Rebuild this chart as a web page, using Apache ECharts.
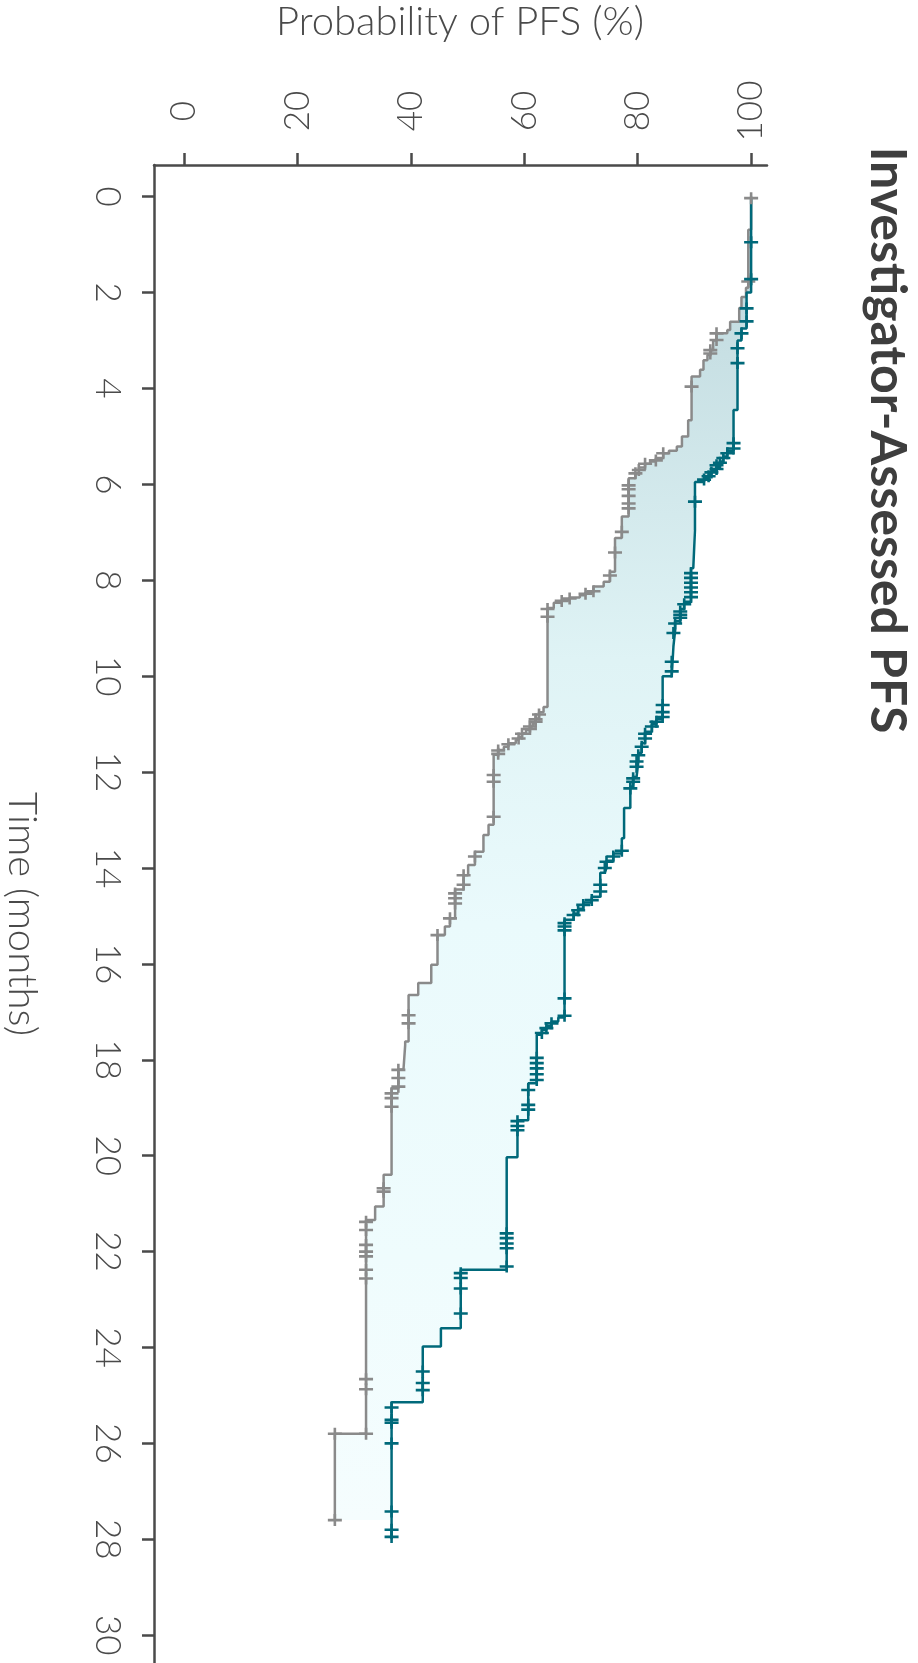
<!DOCTYPE html>
<html>
<head>
<meta charset="utf-8">
<script src="https://cdn.jsdelivr.net/npm/echarts@6/dist/echarts.min.js"></script>
<style>
html,body{margin:0;padding:0;background:#fff;}
#chart{width:918px;height:1663px;}
</style>
</head>
<body>
<div id="chart"></div>
<script>
// ---- data (time in months, survival in %) ----
const timeTicks = [0,2,4,6,8,10,12,14,16,18,20,22,24,26,28,30];
const probTicks = [0,20,40,60,80,100];

const controlSteps = [[0,100],[0.69,99.5],[1.9,99.1],[2.09,98.3],[2.32,97.9],[2.61,96.3],[2.78,95.8],[2.85,93.9],[3.0,93.3],[3.2,92.8],[3.3,92.3],[3.41,91.6],[3.61,91.0],[3.75,89.5],[4.66,88.9],[5.0,87.8],[5.21,86.9],[5.3,85.5],[5.35,84.5],[5.45,83.2],[5.52,82.2],[5.57,81.3],[5.65,80.2],[5.77,79.6],[5.87,78.4],[6.67,77.2],[7.12,76.0],[7.82,75.1],[8.03,74.0],[8.13,72.2],[8.25,70.8],[8.31,69.8],[8.36,68.0],[8.41,66.6],[8.47,65.2],[8.58,64.1],[10.64,63.4],[10.75,62.6],[10.88,62.0],[10.98,61.5],[11.05,61.0],[11.12,60.3],[11.19,59.6],[11.27,59.0],[11.33,58.5],[11.4,57.2],[11.47,56.4],[11.54,55.4],[11.64,54.6],[13.1,53.7],[13.31,52.8],[13.66,51.3],[13.94,50.1],[14.15,49.3],[14.45,47.8],[15.05,46.9],[15.22,46.0],[15.4,44.7],[16.02,43.6],[16.4,41.3],[16.65,39.6],[17.62,39.0],[17.7,38.7],[18.2,37.8],[18.6,36.6],[20.4,35.2],[21.06,33.7],[21.34,32.1],[25.8,26.6]];
const controlEnd = 27.6;
const controlCensored = [[0.03,100],[1.77,99.5],[2.85,93.9],[2.99,93.9],[3.2,92.8],[3.27,92.8],[3.96,89.5],[5.35,84.5],[5.5,83.2],[5.57,81.3],[5.7,80.2],[5.77,79.6],[6.02,78.4],[6.1,78.4],[6.24,78.4],[6.4,78.4],[6.5,78.4],[6.99,77.2],[7.42,76.0],[7.9,75.1],[8.23,72.2],[8.28,70.8],[8.38,68.0],[8.43,66.6],[8.6,64.1],[8.76,64.1],[10.8,62.6],[10.9,62.0],[10.95,62.0],[11.05,61.0],[11.1,61.0],[11.2,59.6],[11.3,59.0],[11.42,57.2],[11.55,55.4],[11.62,55.4],[12.06,54.6],[12.2,54.6],[12.93,54.6],[13.76,51.3],[14.15,49.3],[14.35,49.3],[14.53,47.8],[14.63,47.8],[14.74,47.8],[15.05,46.9],[15.4,44.7],[17.07,39.6],[17.24,39.6],[18.21,37.8],[18.38,37.8],[18.56,37.8],[18.7,36.6],[18.8,36.6],[18.98,36.6],[20.68,35.2],[20.75,35.2],[21.38,32.1],[21.55,32.1],[21.86,32.1],[22.0,32.1],[22.1,32.1],[22.38,32.1],[22.56,32.1],[24.66,32.1],[24.87,32.1],[25.8,32.1],[25.8,26.6],[27.6,26.6]];

const treatSteps = [[0,100],[2.0,99.2],[2.75,98.3],[3.0,97.6],[4.45,96.9],[5.3,95.8],[5.42,95.1],[5.52,94.5],[5.63,93.9],[5.72,93.0],[5.8,92.5],[5.87,91.7],[5.95,90.1],[6.95,89.8],[7.75,89.4],[8.45,88.2],[8.6,87.5],[8.85,86.6],[9.05,86.3],[9.38,86.0],[10.0,84.4],[10.9,83.3],[11.0,82.5],[11.16,81.3],[11.4,80.7],[11.6,80.1],[11.8,79.8],[12.1,79.2],[12.3,78.7],[12.75,77.6],[13.38,77.2],[13.7,75.7],[13.85,74.5],[14.0,74.2],[14.1,73.4],[14.6,71.9],[14.72,70.4],[14.85,69.5],[14.95,68.7],[15.08,67.1],[17.12,66.0],[17.2,64.8],[17.3,63.9],[17.38,63.1],[17.48,62.2],[18.49,60.7],[19.26,58.8],[20.03,56.9],[22.38,48.8],[23.6,45.3],[23.98,42.1],[25.14,36.6]];
const treatEnd = 28.0;
const treatCensored = [[0.95,100],[1.72,100],[2.33,99.2],[2.6,99.2],[2.85,98.3],[3.16,97.6],[3.47,97.6],[5.14,96.9],[5.25,96.9],[5.35,95.8],[5.45,95.1],[5.55,94.5],[5.6,93.9],[5.68,93.9],[5.75,93.0],[5.83,92.5],[5.9,91.7],[6.36,90.1],[7.85,89.4],[7.95,89.4],[8.05,89.4],[8.15,89.4],[8.25,89.4],[8.35,89.4],[8.5,88.2],[8.65,87.5],[8.72,87.5],[8.78,87.5],[8.9,86.6],[9.1,86.3],[9.7,86.0],[9.9,86.0],[10.6,84.4],[10.75,84.4],[10.85,84.4],[10.95,83.3],[11.05,82.5],[11.2,81.3],[11.3,81.3],[11.47,80.7],[11.65,80.1],[11.78,79.8],[11.89,79.8],[12.13,79.2],[12.2,79.2],[12.34,78.7],[13.64,77.2],[13.76,75.7],[13.87,74.5],[14.0,74.2],[14.35,73.4],[14.49,73.4],[14.67,71.9],[14.77,70.4],[14.88,69.5],[14.98,68.7],[15.15,67.1],[15.22,67.1],[15.3,67.1],[16.72,67.1],[17.08,67.1],[17.24,64.8],[17.34,63.9],[17.44,63.1],[17.96,62.2],[18.07,62.2],[18.18,62.2],[18.3,62.2],[18.42,62.2],[18.63,60.7],[18.94,60.7],[19.04,60.7],[19.28,58.8],[19.38,58.8],[19.47,58.8],[21.62,56.9],[21.72,56.9],[21.83,56.9],[21.93,56.9],[22.31,56.9],[22.45,48.8],[22.55,48.8],[22.77,48.8],[23.29,48.8],[24.5,42.1],[24.74,42.1],[24.89,42.1],[25.25,36.6],[25.51,36.6],[25.57,36.6],[26.0,36.6],[27.42,36.6],[27.8,36.6],[27.95,36.6]];

const titleText = 'Investigator-Assessed PFS';
const xName = 'Probability of PFS (%)';
const yName = 'Time (months)';

// ---- build step paths: points as [prob, time] ----
function stepPath(steps, tEnd) {
  const pts = [];
  let prev = null;
  steps.forEach(function (s) {
    if (prev !== null) pts.push([prev, s[0]]);
    pts.push([s[1], s[0]]);
    prev = s[1];
  });
  pts.push([prev, tEnd]);
  return pts;
}
const controlPath = stepPath(controlSteps, controlEnd);
const treatPath = stepPath(treatSteps, treatEnd);
const fillEnd = Math.min(controlEnd, treatEnd);
function clipPath(path, tMax) {
  const out = [];
  for (let i = 0; i < path.length; i++) {
    if (path[i][1] <= tMax) out.push(path[i]);
    else { out.push([path[i - 1][0], tMax]); break; }
  }
  if (out[out.length - 1][1] < tMax) out.push([out[out.length - 1][0], tMax]);
  return out;
}
const fillPoly = clipPath(treatPath, fillEnd).concat(clipPath(controlPath, fillEnd).reverse());

const GRAY = '#8a8a8a';
const TEAL = '#00697a';
const TEXT = '#4a4a4a';
const plusSym = 'path://M0,4.7H14V7.3H0Z M5.7,0H8.3V12H5.7Z';

const chart = echarts.init(document.getElementById('chart'), null, {renderer: 'canvas'});
const fillGrad = new echarts.graphic.LinearGradient(0, 0, 0, 1, [
  {offset: 0, color: '#bcd7dc'},
  {offset: 0.12, color: '#c8e0e4'},
  {offset: 0.35, color: '#dff3f5'},
  {offset: 0.55, color: '#eafafc'},
  {offset: 0.8, color: '#effcfd'},
  {offset: 1, color: '#f5fdfe'}
]);

chart.setOption({
  animation: false,
  backgroundColor: '#ffffff',
  grid: {left: 154, top: 165, width: 613, height: 1498, containLabel: false, outerBoundsMode: 'none'},
  xAxis: {
    type: 'value', position: 'top', min: -5.29, max: 102.8,
    axisLine: {show: true, onZero: false, lineStyle: {color: TEXT, width: 2.5}},
    axisTick: {show: true, inside: false, length: 12, customValues: probTicks, lineStyle: {color: TEXT, width: 2.5}},
    axisLabel: {show: true, rotate: -90, margin: 54, align: 'center', verticalAlign: 'middle',
      customValues: probTicks, color: TEXT, fontSize: 35, fontFamily: 'Lato', fontWeight: 300},
    splitLine: {show: false}
  },
  yAxis: {
    type: 'value', position: 'left', inverse: true, min: -0.661, max: 30.58,
    axisLine: {show: true, onZero: false, lineStyle: {color: TEXT, width: 2.5}},
    axisTick: {show: true, inside: false, length: 12, customValues: timeTicks, lineStyle: {color: TEXT, width: 2.5}},
    axisLabel: {show: true, rotate: -90, margin: 29, customValues: timeTicks, color: TEXT,
      fontSize: 35, fontFamily: 'Lato', fontWeight: 300},
    splitLine: {show: false}
  },
  graphic: [
    {type: 'text', x: 887, y: 440, rotation: -Math.PI / 2, z: 10,
      style: {text: titleText, font: 'bold 50px Lato', fill: '#3e3e3e', align: 'center', verticalAlign: 'middle'}},
    {type: 'text', x: 460, y: 22, z: 10,
      style: {text: xName, font: '300 40px Lato', fill: TEXT, align: 'center', verticalAlign: 'middle'}},
    {type: 'text', x: 22, y: 914, rotation: -Math.PI / 2, z: 10,
      style: {text: yName, font: '300 40px Lato', fill: TEXT, align: 'center', verticalAlign: 'middle'}}
  ],
  series: [
    {
      type: 'custom', name: 'fill', z: 1, silent: true, clip: false,
      data: [[0, 0]],
      renderItem: function (params, api) {
        if (params.dataIndex !== 0) return;
        const pts = fillPoly.map(function (d) { return api.coord(d); });
        return {type: 'polygon', shape: {points: pts}, style: {fill: fillGrad}};
      }
    },
    {
      type: 'line', name: 'Control', z: 3, data: controlPath, showSymbol: false, silent: true,
      lineStyle: {color: GRAY, width: 2.5}, itemStyle: {color: GRAY}
    },
    {
      type: 'line', name: 'Treatment', z: 4, data: treatPath, showSymbol: false, silent: true,
      lineStyle: {color: TEAL, width: 2.5}, itemStyle: {color: TEAL}
    },
    {
      type: 'scatter', name: 'Control censored', z: 5, silent: true,
      data: controlCensored.map(function (c) { return [c[1], c[0]]; }),
      symbol: plusSym, symbolSize: [14, 12], itemStyle: {color: GRAY, opacity: 1}
    },
    {
      type: 'scatter', name: 'Treatment censored', z: 6, silent: true,
      data: treatCensored.map(function (c) { return [c[1], c[0]]; }),
      symbol: plusSym, symbolSize: [14, 12], itemStyle: {color: TEAL, opacity: 1}
    }
  ]
});
</script>
</body>
</html>
